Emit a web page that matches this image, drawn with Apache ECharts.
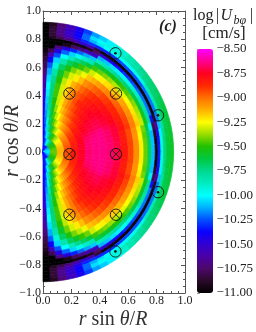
<!DOCTYPE html>
<html><head><meta charset="utf-8">
<script src="https://cdn.jsdelivr.net/npm/echarts@6/dist/echarts.min.js"></script>
<style>html,body{margin:0;padding:0;background:#fff;}#c{width:256px;height:332px;}</style>
</head><body><div id="c"></div>
<script>
// radial bin edges (r/R) and polar-angle bin edges (degrees from the north pole)
const rEdges = [0, 0.05, 0.10, 0.15, 0.20, 0.25, 0.30, 0.35, 0.40, 0.45, 0.50, 0.55, 0.60,
  0.64, 0.68, 0.71, 0.74, 0.765, 0.79, 0.81, 0.83, 0.85, 0.87, 0.895, 0.92];
const thetaEdges = [0, 3, 6.5, 10.5, 15, 18.75, 22.5, 26.25, 30, 33.75, 37.5, 41.25, 45, 48.75, 52.5, 56.25, 60,
  63.75, 67.5, 71.25, 75, 78.75, 82.5, 86.25, 90, 93.75, 97.5, 101.25, 105, 108.75, 112.5, 116.25, 120,
  123.75, 127.5, 131.25, 135, 138.75, 142.5, 146.25, 150, 153.75, 157.5, 161.25, 165, 169.5, 173.5, 177, 180];

// log|U_bphi| per angular sector (north pole -> south pole), per radial bin (centre -> surface)
const logU = [
 [-10.35,-10.35,-10.37,-10.38,-10.40,-10.42,-10.45,-10.48,-10.54,-10.59,-10.64,-10.72,-10.80,-10.85,-10.90,-10.95,-11.00,-11.00,-11.00,-11.00,-11.00,-11.00,-11.00,-11.00],
 [-10.35,-10.35,-10.37,-10.31,-10.23,-10.16,-10.11,-10.07,-10.03,-10.00,-10.05,-10.13,-10.24,-10.39,-10.58,-10.80,-11.00,-11.00,-11.00,-10.90,-10.85,-10.85,-10.85,-10.90],
 [-10.35,-10.35,-10.20,-10.06,-9.93,-9.82,-9.75,-9.72,-9.72,-9.72,-9.75,-9.82,-9.93,-10.07,-10.25,-10.46,-10.70,-11.00,-11.00,-10.80,-10.70,-10.68,-10.68,-10.72],
 [-10.35,-10.24,-10.02,-9.81,-9.68,-9.62,-9.56,-9.50,-9.47,-9.47,-9.50,-9.58,-9.68,-9.83,-10.00,-10.22,-10.46,-10.91,-11.00,-10.70,-10.58,-10.52,-10.52,-10.57],
 [-10.35,-10.12,-9.84,-9.65,-9.56,-9.46,-9.38,-9.32,-9.31,-9.30,-9.33,-9.42,-9.52,-9.67,-9.86,-10.07,-10.32,-10.77,-10.95,-10.60,-10.45,-10.38,-10.38,-10.42],
 [-10.35,-10.03,-9.71,-9.57,-9.44,-9.33,-9.26,-9.21,-9.19,-9.19,-9.22,-9.30,-9.41,-9.57,-9.75,-9.97,-10.22,-10.68,-10.95,-10.50,-10.32,-10.22,-10.22,-10.28],
 [-10.35,-9.93,-9.63,-9.47,-9.34,-9.25,-9.16,-9.11,-9.10,-9.09,-9.13,-9.22,-9.33,-9.48,-9.67,-9.89,-10.14,-10.60,-10.90,-10.60,-10.30,-10.12,-10.05,-10.15],
 [-10.35,-9.84,-9.57,-9.39,-9.26,-9.16,-9.09,-9.03,-9.02,-9.02,-9.06,-9.15,-9.27,-9.42,-9.61,-9.84,-10.09,-10.55,-10.75,-10.85,-10.32,-10.05,-9.98,-10.08],
 [-10.32,-9.76,-9.51,-9.33,-9.19,-9.09,-9.02,-8.97,-8.94,-8.95,-8.99,-9.06,-9.16,-9.31,-9.47,-9.64,-9.87,-10.12,-10.50,-10.95,-10.32,-10.00,-9.95,-10.02],
 [-10.28,-9.71,-9.46,-9.26,-9.13,-9.04,-8.96,-8.92,-8.88,-8.91,-8.94,-9.02,-9.13,-9.26,-9.43,-9.60,-9.84,-10.09,-10.45,-10.95,-10.30,-9.98,-9.92,-9.95],
 [-10.25,-9.66,-9.41,-9.21,-9.08,-8.99,-8.92,-8.87,-8.84,-8.86,-8.90,-8.98,-9.09,-9.23,-9.40,-9.57,-9.80,-10.05,-10.40,-10.95,-10.28,-9.98,-9.88,-9.90],
 [-10.23,-9.62,-9.36,-9.17,-9.04,-8.94,-8.88,-8.83,-8.81,-8.83,-8.87,-8.95,-9.06,-9.20,-9.37,-9.54,-9.77,-10.02,-10.35,-10.95,-10.26,-9.98,-9.85,-9.84],
 [-10.19,-9.59,-9.32,-9.13,-9.00,-8.90,-8.84,-8.80,-8.78,-8.80,-8.84,-8.92,-9.04,-9.18,-9.34,-9.51,-9.74,-9.98,-10.30,-10.95,-10.26,-9.98,-9.82,-9.80],
 [-10.17,-9.57,-9.28,-9.09,-8.97,-8.88,-8.81,-8.78,-8.75,-8.78,-8.82,-8.90,-9.02,-9.16,-9.31,-9.48,-9.70,-9.95,-10.28,-10.95,-10.25,-9.96,-9.78,-9.75],
 [-10.14,-9.54,-9.25,-9.06,-8.93,-8.84,-8.79,-8.75,-8.74,-8.76,-8.80,-8.88,-8.99,-9.13,-9.28,-9.45,-9.67,-9.91,-10.25,-10.95,-10.25,-9.95,-9.75,-9.72],
 [-10.12,-9.52,-9.22,-9.04,-8.91,-8.82,-8.76,-8.73,-8.72,-8.74,-8.79,-8.86,-8.97,-9.10,-9.25,-9.42,-9.64,-9.88,-10.22,-10.95,-10.22,-9.88,-9.72,-9.70],
 [-10.10,-9.50,-9.20,-9.02,-8.89,-8.80,-8.75,-8.72,-8.70,-8.73,-8.77,-8.85,-8.95,-9.08,-9.23,-9.39,-9.60,-9.84,-10.20,-10.95,-10.20,-9.85,-9.70,-9.68],
 [-10.09,-9.49,-9.19,-9.00,-8.87,-8.78,-8.73,-8.70,-8.69,-8.72,-8.76,-8.84,-8.93,-9.06,-9.21,-9.36,-9.58,-9.81,-10.20,-10.95,-10.20,-9.84,-9.68,-9.65],
 [-10.08,-9.47,-9.17,-8.98,-8.86,-8.77,-8.70,-8.67,-8.65,-8.69,-8.73,-8.82,-8.92,-9.04,-9.19,-9.34,-9.56,-9.79,-10.20,-10.95,-10.20,-9.82,-9.66,-9.62],
 [-10.07,-9.46,-9.15,-8.97,-8.84,-8.76,-8.68,-8.65,-8.64,-8.67,-8.72,-8.80,-8.90,-9.03,-9.17,-9.32,-9.54,-9.77,-10.35,-10.90,-10.20,-9.80,-9.65,-9.62],
 [-10.06,-9.45,-9.14,-8.95,-8.83,-8.75,-8.67,-8.64,-8.64,-8.67,-8.72,-8.83,-8.93,-9.06,-9.22,-9.41,-9.64,-10.03,-10.80,-10.65,-10.10,-9.80,-9.65,-9.60],
 [-10.06,-9.44,-9.14,-8.95,-8.83,-8.74,-8.66,-8.64,-8.64,-8.66,-8.71,-8.83,-8.93,-9.07,-9.24,-9.44,-9.67,-10.11,-10.90,-10.45,-10.02,-9.76,-9.63,-9.60],
 [-10.05,-9.44,-9.13,-8.94,-8.82,-8.74,-8.66,-8.64,-8.64,-8.66,-8.71,-8.82,-8.92,-9.06,-9.23,-9.43,-9.67,-10.10,-10.95,-10.35,-9.96,-9.73,-9.62,-9.58],
 [-10.05,-9.43,-9.13,-8.94,-8.82,-8.74,-8.66,-8.64,-8.64,-8.66,-8.71,-8.82,-8.92,-9.06,-9.23,-9.43,-9.67,-10.10,-10.95,-10.33,-9.95,-9.72,-9.62,-9.58],
 [-10.05,-9.43,-9.13,-8.94,-8.82,-8.74,-8.66,-8.64,-8.64,-8.66,-8.71,-8.82,-8.92,-9.06,-9.23,-9.43,-9.67,-10.10,-10.95,-10.33,-9.95,-9.72,-9.62,-9.58],
 [-10.05,-9.44,-9.13,-8.94,-8.82,-8.74,-8.66,-8.64,-8.64,-8.66,-8.71,-8.82,-8.92,-9.06,-9.23,-9.43,-9.67,-10.10,-10.95,-10.35,-9.96,-9.73,-9.62,-9.58],
 [-10.06,-9.44,-9.14,-8.95,-8.83,-8.74,-8.66,-8.64,-8.64,-8.66,-8.71,-8.83,-8.93,-9.07,-9.24,-9.44,-9.67,-10.11,-10.90,-10.45,-10.02,-9.76,-9.63,-9.60],
 [-10.06,-9.45,-9.14,-8.95,-8.83,-8.75,-8.67,-8.64,-8.64,-8.67,-8.72,-8.83,-8.93,-9.06,-9.22,-9.41,-9.64,-10.03,-10.80,-10.65,-10.10,-9.80,-9.65,-9.60],
 [-10.07,-9.46,-9.15,-8.97,-8.84,-8.76,-8.68,-8.65,-8.64,-8.67,-8.72,-8.80,-8.90,-9.03,-9.17,-9.32,-9.54,-9.77,-10.35,-10.90,-10.20,-9.80,-9.65,-9.62],
 [-10.08,-9.47,-9.17,-8.98,-8.86,-8.77,-8.70,-8.67,-8.65,-8.69,-8.73,-8.82,-8.92,-9.04,-9.19,-9.34,-9.56,-9.79,-10.20,-10.95,-10.20,-9.82,-9.66,-9.62],
 [-10.09,-9.49,-9.19,-9.00,-8.87,-8.78,-8.73,-8.70,-8.69,-8.72,-8.76,-8.84,-8.93,-9.06,-9.21,-9.36,-9.58,-9.81,-10.20,-10.95,-10.20,-9.84,-9.68,-9.65],
 [-10.10,-9.50,-9.20,-9.02,-8.89,-8.80,-8.75,-8.72,-8.70,-8.73,-8.77,-8.85,-8.95,-9.08,-9.23,-9.39,-9.60,-9.84,-10.20,-10.95,-10.20,-9.85,-9.70,-9.68],
 [-10.12,-9.52,-9.22,-9.04,-8.91,-8.82,-8.76,-8.73,-8.72,-8.74,-8.79,-8.86,-8.97,-9.10,-9.25,-9.42,-9.64,-9.88,-10.22,-10.95,-10.22,-9.88,-9.72,-9.70],
 [-10.14,-9.54,-9.25,-9.06,-8.93,-8.84,-8.79,-8.75,-8.74,-8.76,-8.80,-8.88,-8.99,-9.13,-9.28,-9.45,-9.67,-9.91,-10.25,-10.95,-10.25,-9.95,-9.75,-9.72],
 [-10.17,-9.57,-9.28,-9.09,-8.97,-8.88,-8.81,-8.78,-8.75,-8.78,-8.82,-8.90,-9.02,-9.16,-9.31,-9.48,-9.70,-9.95,-10.28,-10.95,-10.25,-9.96,-9.78,-9.75],
 [-10.19,-9.59,-9.32,-9.13,-9.00,-8.90,-8.84,-8.80,-8.78,-8.80,-8.84,-8.92,-9.04,-9.18,-9.34,-9.51,-9.74,-9.98,-10.30,-10.95,-10.26,-9.98,-9.82,-9.80],
 [-10.23,-9.62,-9.36,-9.17,-9.04,-8.94,-8.88,-8.83,-8.81,-8.83,-8.87,-8.95,-9.06,-9.20,-9.37,-9.54,-9.77,-10.02,-10.35,-10.95,-10.26,-9.98,-9.85,-9.84],
 [-10.25,-9.66,-9.41,-9.21,-9.08,-8.99,-8.92,-8.87,-8.84,-8.86,-8.90,-8.98,-9.09,-9.23,-9.40,-9.57,-9.80,-10.05,-10.40,-10.95,-10.28,-9.98,-9.88,-9.90],
 [-10.28,-9.71,-9.46,-9.26,-9.13,-9.04,-8.96,-8.92,-8.88,-8.91,-8.94,-9.02,-9.13,-9.26,-9.43,-9.60,-9.84,-10.09,-10.45,-10.95,-10.30,-9.98,-9.92,-9.95],
 [-10.32,-9.76,-9.51,-9.33,-9.19,-9.09,-9.02,-8.97,-8.94,-8.95,-8.99,-9.06,-9.16,-9.31,-9.47,-9.64,-9.87,-10.12,-10.50,-10.95,-10.32,-10.00,-9.95,-10.02],
 [-10.35,-9.84,-9.57,-9.39,-9.26,-9.16,-9.09,-9.03,-9.02,-9.02,-9.06,-9.15,-9.27,-9.42,-9.61,-9.84,-10.09,-10.55,-10.75,-10.85,-10.32,-10.05,-9.98,-10.08],
 [-10.35,-9.93,-9.63,-9.47,-9.34,-9.25,-9.16,-9.11,-9.10,-9.09,-9.13,-9.22,-9.33,-9.48,-9.67,-9.89,-10.14,-10.60,-10.90,-10.60,-10.30,-10.12,-10.05,-10.15],
 [-10.35,-10.03,-9.71,-9.57,-9.44,-9.33,-9.26,-9.21,-9.19,-9.19,-9.22,-9.30,-9.41,-9.57,-9.75,-9.97,-10.22,-10.68,-10.95,-10.50,-10.32,-10.22,-10.22,-10.28],
 [-10.35,-10.12,-9.84,-9.65,-9.56,-9.46,-9.38,-9.32,-9.31,-9.30,-9.33,-9.42,-9.52,-9.67,-9.86,-10.07,-10.32,-10.77,-10.95,-10.60,-10.45,-10.38,-10.38,-10.42],
 [-10.35,-10.24,-10.02,-9.81,-9.68,-9.62,-9.56,-9.50,-9.47,-9.47,-9.50,-9.58,-9.68,-9.83,-10.00,-10.22,-10.46,-10.91,-11.00,-10.70,-10.58,-10.52,-10.52,-10.57],
 [-10.35,-10.35,-10.20,-10.06,-9.93,-9.82,-9.75,-9.72,-9.72,-9.72,-9.75,-9.82,-9.93,-10.07,-10.25,-10.46,-10.70,-11.00,-11.00,-10.80,-10.70,-10.68,-10.68,-10.72],
 [-10.35,-10.35,-10.37,-10.31,-10.23,-10.16,-10.11,-10.07,-10.03,-10.00,-10.05,-10.13,-10.24,-10.39,-10.58,-10.80,-11.00,-11.00,-11.00,-10.90,-10.85,-10.85,-10.85,-10.90],
 [-10.35,-10.35,-10.37,-10.38,-10.40,-10.42,-10.45,-10.48,-10.54,-10.59,-10.64,-10.72,-10.80,-10.85,-10.90,-10.95,-11.00,-11.00,-11.00,-11.00,-11.00,-11.00,-11.00,-11.00]
];

// direction markers: into the page (circle with cross) and out of the page (circle with dot)
const intoPage = [[0.186, 0.415], [0.514, 0.415], [0.186, -0.015], [0.514, -0.015], [0.186, -0.445], [0.514, -0.445]];
const outOfPage = [[0.51, 0.70], [0.81, 0.26], [0.81, -0.285], [0.51, -0.705]];

// colour scale range
const cMin = -11.0, cMax = -8.5;
const palette = ['#000000','#2a0a2a','#4c0868','#4a00a8','#3200d0','#0a00ff','#0050ff','#00b0ff','#00ffff','#00ecc0','#00d890',
  '#00c840','#20c000','#98dc00','#ffff00','#ffb000','#ff7000','#ff2800','#ff0020','#ff0090','#ff00ff'];

const FONT = 'Liberation Serif';
const fmt = n => v => (v < -1e-9 ? '\u2212' : '') + Math.abs(v).toFixed(n);

const fieldData = [];
logU.forEach((row, j) => row.forEach((v, i) => fieldData.push([i, j, v])));

function renderCell(params, api) {
  const i = api.value(0), j = api.value(1);
  const r0 = rEdges[i], r1 = rEdges[i + 1];
  const t0 = thetaEdges[j] * Math.PI / 180, t1 = thetaEdges[j + 1] * Math.PI / 180;
  const n = 4, pts = [];
  for (let k = 0; k <= n; k++) { const t = t0 + (t1 - t0) * k / n; pts.push(api.coord([r1 * Math.sin(t), r1 * Math.cos(t)])); }
  for (let k = n; k >= 0; k--) { const t = t0 + (t1 - t0) * k / n; pts.push(api.coord([r0 * Math.sin(t), r0 * Math.cos(t)])); }
  const c = api.visual('color');
  return { type: 'polygon', shape: { points: pts }, style: { fill: c, stroke: c, lineWidth: 0.7 } };
}
function markRenderer(kind) {
  return function (params, api) {
    const p = api.coord([api.value(0), api.value(1)]);
    const R = 5.7, col = '#111';
    const ch = [{ type: 'circle', shape: { cx: p[0], cy: p[1], r: R }, style: { fill: 'none', stroke: col, lineWidth: 0.9 } }];
    if (kind === 'cross') {
      const d = R * 0.7071;
      ch.push({ type: 'line', shape: { x1: p[0] - d, y1: p[1] - d, x2: p[0] + d, y2: p[1] + d }, style: { stroke: col, lineWidth: 0.9 } });
      ch.push({ type: 'line', shape: { x1: p[0] - d, y1: p[1] + d, x2: p[0] + d, y2: p[1] - d }, style: { stroke: col, lineWidth: 0.9 } });
    } else {
      ch.push({ type: 'circle', shape: { cx: p[0], cy: p[1], r: 1.3 }, style: { fill: col } });
    }
    return { type: 'group', children: ch };
  };
}

const frameCol = '#555';
const lab = { fontFamily: FONT, fontSize: 12, color: '#222' };
function frameAxis(extra) {
  return Object.assign({
    type: 'value', gridIndex: 0,
    axisLine: { show: true, onZero: false, lineStyle: { color: frameCol, width: 1 } },
    axisTick: { show: true, inside: true, length: 4, lineStyle: { color: frameCol } },
    minorTick: { show: true, splitNumber: 4, length: 2, lineStyle: { color: frameCol } },
    splitLine: { show: false }, minorSplitLine: { show: false }
  }, extra);
}

const chart = echarts.init(document.getElementById('c'), null, { renderer: 'canvas' });
chart.setOption({
  animation: false,
  grid: [
    { left: 43, top: 11, width: 142, height: 282 },
    { left: 197, top: 49, width: 16, height: 244 }
  ],
  xAxis: [
    frameAxis({ min: 0, max: 1, interval: 0.2, position: 'bottom', axisLabel: Object.assign({ margin: 2, formatter: fmt(1) }, lab) }),
    frameAxis({ min: 0, max: 1, interval: 0.2, position: 'top', axisLabel: { show: false } }),
    { type: 'value', gridIndex: 1, min: 0, max: 1, show: false }
  ],
  yAxis: [
    frameAxis({ min: -1, max: 1, interval: 0.2, position: 'left', axisLabel: Object.assign({ margin: 2, formatter: fmt(1) }, lab) }),
    frameAxis({ min: -1, max: 1, interval: 0.2, position: 'right', axisLabel: { show: false } }),
    { type: 'value', gridIndex: 1, min: cMin, max: cMax, interval: 0.25, position: 'right',
      axisLine: { show: false }, splitLine: { show: false },
      axisTick: { show: true, length: 3, lineStyle: { color: '#999' } },
      axisLabel: { fontFamily: FONT, fontSize: 13, color: '#222', margin: 4, formatter: fmt(2) } }
  ],
  visualMap: {
    type: 'continuous', min: cMin, max: cMax, dimension: 2, seriesIndex: 0,
    calculable: false, show: true, left: 197, top: 49, itemWidth: 16, itemHeight: 244, padding: 0,
    inRange: { color: palette }
  },
  series: [
    { type: 'custom', coordinateSystem: 'cartesian2d', xAxisIndex: 0, yAxisIndex: 0, silent: true,
      dimensions: ['ring', 'sector', 'logU'], encode: { x: 0, y: 1 }, data: fieldData, renderItem: renderCell, z: 2 },
    { type: 'custom', coordinateSystem: 'cartesian2d', xAxisIndex: 0, yAxisIndex: 0, silent: true,
      data: intoPage, renderItem: markRenderer('cross'), z: 5 },
    { type: 'custom', coordinateSystem: 'cartesian2d', xAxisIndex: 0, yAxisIndex: 0, silent: true,
      data: outOfPage, renderItem: markRenderer('dot'), z: 5 }
  ],
  graphic: [
    { type: 'text', x: 193, y: 16, style: { text: 'log', fontFamily: FONT, fontSize: 16, fill: '#222', textVerticalAlign: 'middle' } },
    { type: 'text', x: 217.5, y: 16, style: { text: '|', fontFamily: FONT, fontSize: 16, fill: '#222', textAlign: 'center', textVerticalAlign: 'middle' } },
    { type: 'text', x: 220.5, y: 16, style: { text: 'U', fontFamily: FONT, fontSize: 16, fontStyle: 'italic', fill: '#222', textVerticalAlign: 'middle' } },
    { type: 'text', x: 233.5, y: 21, style: { text: 'b\u03c6', fontFamily: FONT, fontSize: 12, fontStyle: 'italic', fill: '#222', textVerticalAlign: 'middle' } },
    { type: 'text', x: 251.5, y: 16, style: { text: '|', fontFamily: FONT, fontSize: 16, fill: '#222', textAlign: 'center', textVerticalAlign: 'middle' } },
    { type: 'text', x: 224, y: 34, style: { text: '[cm/s]', fontFamily: FONT, fontSize: 17, fill: '#222', textAlign: 'center', textVerticalAlign: 'middle' } },
    { type: 'text', x: 168, y: 27, style: { text: '(c)', fontFamily: FONT, fontSize: 16, fontStyle: 'italic', fontWeight: 'bold', fill: '#222', textAlign: 'center', textVerticalAlign: 'middle' } },
    { type: 'text', x: 113, y: 320, style: { text: '{i|r} sin {i|\u03b8}/{i|R}', fontFamily: FONT, fontSize: 20, fill: '#333', textAlign: 'center', textVerticalAlign: 'middle',
      rich: { i: { fontFamily: FONT, fontSize: 20, fontStyle: 'italic', fill: '#333' } } } },
    { type: 'text', x: 12.5, y: 141, rotation: Math.PI / 2, style: { text: '{i|r} cos {i|\u03b8}/{i|R}', fontFamily: FONT, fontSize: 20, fill: '#333', textAlign: 'center', textVerticalAlign: 'middle',
      rich: { i: { fontFamily: FONT, fontSize: 20, fontStyle: 'italic', fill: '#333' } } } }
  ]
});
</script>
</body></html>
